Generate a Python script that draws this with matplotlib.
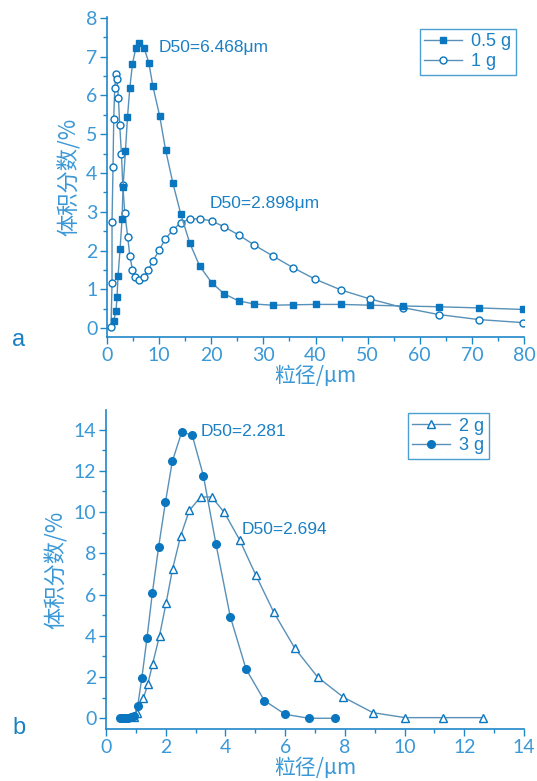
import numpy as np
import matplotlib.pyplot as plt
from matplotlib.ticker import MultipleLocator

# panel a: 0.5 g (filled squares) and 1 g (open circles)
x_05g = [1.29, 1.73, 1.92, 2.12, 2.50, 2.88, 3.08, 3.54, 3.92, 4.37, 4.88, 5.52, 6.23,
         7.12, 8.02, 8.79, 10.08, 11.23, 12.63, 14.17, 15.85, 17.77, 20.08, 22.5,
         25.27, 28.27, 31.8, 35.65, 40.0, 44.9, 50.5, 56.7, 63.6, 71.3, 79.8]
y_05g = [0.19, 0.45, 0.81, 1.35, 2.03, 2.81, 3.65, 4.57, 5.43, 6.19, 6.81, 7.22, 7.36,
         7.22, 6.84, 6.24, 5.48, 4.60, 3.74, 2.93, 2.20, 1.60, 1.17, 0.88,
         0.70, 0.62, 0.59, 0.60, 0.61, 0.61, 0.59, 0.57, 0.55, 0.52, 0.48]

x_1g = [0.77, 0.96, 0.96, 1.15, 1.29, 1.48, 1.73, 1.92, 2.19, 2.44, 2.77, 3.02, 3.40,
        3.98, 4.37, 4.88, 5.46, 6.23, 7.0, 7.88, 8.85, 10.0, 11.15, 12.63, 14.17,
        15.85, 17.83, 20.08, 22.5, 25.27, 28.27, 31.8, 35.65, 39.94, 44.94, 50.46,
        56.7, 63.6, 71.3, 79.9]
y_1g = [0.03, 1.17, 2.74, 4.16, 5.40, 6.20, 6.55, 6.41, 5.92, 5.23, 4.48, 3.69, 2.98,
        2.34, 1.86, 1.51, 1.32, 1.24, 1.32, 1.49, 1.74, 2.01, 2.29, 2.53, 2.72,
        2.81, 2.82, 2.76, 2.61, 2.40, 2.14, 1.86, 1.56, 1.26, 0.98, 0.75,
        0.53, 0.35, 0.22, 0.14]

# panel b: 2 g (open triangles) and 3 g (filled circles)
x_2g = [0.92, 1.03, 1.25, 1.40, 1.56, 1.79, 2.01, 2.23, 2.50, 2.79, 3.17, 3.54, 3.96,
        4.47, 5.01, 5.62, 6.32, 7.09, 7.95, 8.94, 10.02, 11.27, 12.64]
y_2g = [0.05, 0.24, 0.97, 1.66, 2.64, 4.00, 5.58, 7.25, 8.85, 10.08, 10.73, 10.73, 9.98,
        8.66, 6.96, 5.13, 3.40, 1.99, 1.02, 0.27, 0.03, 0.03, 0.03]

x_3g = [0.47, 0.53, 0.60, 0.67, 0.75, 0.84, 0.94, 1.06, 1.20, 1.37, 1.55, 1.76, 1.99,
        2.22, 2.53, 2.88, 3.26, 3.68, 4.16, 4.69, 5.30, 6.00, 6.79, 7.68]
y_3g = [0.0, 0.0, 0.0, 0.0, 0.0, 0.05, 0.12, 0.60, 1.97, 3.88, 6.07, 8.30, 10.49,
        12.46, 13.86, 13.75, 11.76, 8.45, 4.93, 2.38, 0.86, 0.19, 0.0, 0.0]

AX_C = '#1f86c8'
TXT_C = '#3a98d6'
MK_C = '#0a76bf'
LN_C = '#5890b8'
ANN_C = '#1a80c4'

tick_font = 'Lato'
cjk = ['Noto Sans CJK SC', 'DejaVu Sans']

fig = plt.figure(figsize=(5.37, 7.81), dpi=100)
ax1 = fig.add_axes([0.1993, 0.5685, 0.7765, 0.4097])
ax2 = fig.add_axes([0.1975, 0.0666, 0.7784, 0.4085])


def style(ax):
    for s in ['top', 'right']:
        ax.spines[s].set_visible(False)
    for s in ['left', 'bottom']:
        ax.spines[s].set_color(AX_C)
        ax.spines[s].set_linewidth(1.2)
    ax.tick_params(which='both', direction='out', color=AX_C, labelcolor=TXT_C,
                   labelsize=14, width=1.0)
    ax.tick_params(which='major', length=5, pad=2)
    ax.tick_params(which='minor', length=3)
    for lab in ax.get_xticklabels() + ax.get_yticklabels():
        lab.set_family(tick_font)


def legend(ax, handles, anchor):
    leg = ax.legend(handles=handles, loc='upper right', bbox_to_anchor=anchor,
                    frameon=True, fancybox=False, edgecolor=AX_C,
                    handlelength=2.1, handletextpad=0.5, borderpad=0.25,
                    labelspacing=0.15, borderaxespad=0,
                    prop={'family': 'Liberation Sans', 'size': 13})
    leg.get_frame().set_linewidth(1.0)
    for t in leg.get_texts():
        t.set_color(ANN_C)
    return leg


# ---- panel a
l1, = ax1.plot(x_1g, y_1g, '-o', color=LN_C, lw=1.0, ms=5, mfc='white',
               mec=MK_C, mew=1.0, label='1 g')
l05, = ax1.plot(x_05g, y_05g, '-s', color=LN_C, lw=1.0, ms=4.8, mfc=MK_C,
                mec=MK_C, label='0.5 g')
ax1.set_xlim(0, 80)
ax1.set_ylim(-0.23, 8.02)
ax1.xaxis.set_major_locator(MultipleLocator(10))
ax1.xaxis.set_minor_locator(MultipleLocator(5))
ax1.yaxis.set_major_locator(MultipleLocator(1))
ax1.yaxis.set_minor_locator(MultipleLocator(0.5))
style(ax1)
ax1.set_xlabel('粒径/μm', family=cjk, fontsize=15, color=TXT_C, labelpad=1)
ax1.set_ylabel('体积分数/%', family=cjk, fontsize=16, color=TXT_C, labelpad=4)
ax1.text(9.9, 7.24, 'D50=6.468μm', family='Liberation Sans', fontsize=12.5,
         color=ANN_C, va='center')
ax1.text(19.6, 3.2, 'D50=2.898μm', family='Liberation Sans', fontsize=12.5,
         color=ANN_C, va='center')
legend(ax1, [l05, l1], (0.981, 0.963))

# ---- panel b
l2, = ax2.plot(x_2g, y_2g, '-^', color=LN_C, lw=1.0, ms=6, mfc='white',
               mec=MK_C, mew=1.0, label='2 g')
l3, = ax2.plot(x_3g, y_3g, '-o', color=LN_C, lw=1.0, ms=5.5, mfc=MK_C,
               mec=MK_C, label='3 g')
ax2.set_xlim(0, 14)
ax2.set_ylim(-0.52, 14.95)
ax2.xaxis.set_major_locator(MultipleLocator(2))
ax2.xaxis.set_minor_locator(MultipleLocator(1))
ax2.yaxis.set_major_locator(MultipleLocator(2))
ax2.yaxis.set_minor_locator(MultipleLocator(1))
style(ax2)
ax2.set_xlabel('粒径/μm', family=cjk, fontsize=15, color=TXT_C, labelpad=1)
ax2.set_ylabel('体积分数/%', family=cjk, fontsize=16, color=TXT_C, labelpad=4)
ax2.text(3.18, 13.9, 'D50=2.281', family='Liberation Sans', fontsize=12.5,
         color=ANN_C, va='center')
ax2.text(4.55, 9.14, 'D50=2.694', family='Liberation Sans', fontsize=12.5,
         color=ANN_C, va='center')
legend(ax2, [l2, l3], (0.916, 0.99))

fig.text(12 / 537, 1 - 340 / 781, 'a', fontsize=17, color=ANN_C,
         family='Liberation Sans', va='center')
fig.text(12 / 537, 1 - 728 / 781, 'b', fontsize=17, color=ANN_C,
         family='Liberation Sans', va='center')

fig.savefig('out.png', dpi=100)
